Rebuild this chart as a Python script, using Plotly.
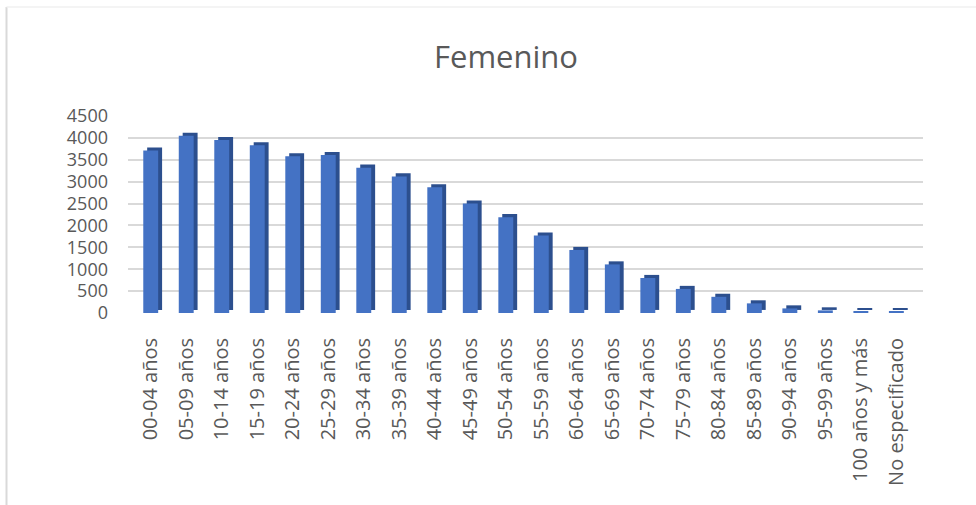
import plotly.graph_objects as go

categories = ["00-04 años", "05-09 años", "10-14 años", "15-19 años", "20-24 años",
              "25-29 años", "30-34 años", "35-39 años", "40-44 años", "45-49 años",
              "50-54 años", "55-59 años", "60-64 años", "65-69 años", "70-74 años",
              "75-79 años", "80-84 años", "85-89 años", "90-94 años", "95-99 años",
              "100 años y más", "No especificado"]
femenino = [3710, 4050, 3950, 3830, 3580, 3610, 3320, 3120, 2870, 2500,
            2190, 1770, 1440, 1110, 800, 550, 370, 220, 105, 60, 25, 25]
y_ticks = [0, 500, 1000, 1500, 2000, 2500, 3000, 3500, 4000, 4500]

FRONT = "#4472C4"
SIDE = "#2C4F8E"
TXT = "#595959"
FONT = "Open Sans"

# plot area geometry (pixels)
L, R, T, B = 128, 923, 116, 313
W, H = 976, 505

def px_x(p):
    return (p - L) / (R - L)

def px_y(p):
    return (B - p) / (B - T)

fig = go.Figure()
# dark "depth" face, drawn behind and shifted up/right
fig.add_trace(go.Bar(x=categories, y=femenino, base=70, width=0.42, offset=-0.10,
                     marker=dict(color=SIDE, line=dict(width=0)),
                     hoverinfo="skip", showlegend=False))
# front face
fig.add_trace(go.Bar(x=categories, y=femenino, width=0.42, offset=-0.21,
                     marker=dict(color=FRONT, line=dict(width=0)),
                     name="Femenino", showlegend=False))

fig.update_layout(
    width=W, height=H,
    margin=dict(l=L, r=W - R, t=T, b=H - B, autoexpand=False),
    paper_bgcolor="white", plot_bgcolor="white",
    barmode="overlay",
    font=dict(family=FONT, color=TXT, size=18),
    title=dict(text="Femenino", x=506 / W, xanchor="center",
               y=(H - 57) / H, yanchor="middle", yref="container",
               font=dict(family=FONT, size=31, color=TXT)),
    xaxis=dict(range=[-0.64, 21.75], tickangle=-90, showgrid=False,
               showline=False, ticks="", ticklabelstandoff=20, automargin=False,
               tickfont=dict(family=FONT, size=20, color=TXT)),
    yaxis=dict(range=[0, 4500], tickvals=y_ticks, showgrid=True,
               gridcolor="#D9D9D9", gridwidth=1.6, zeroline=False,
               showline=False, ticks="", ticklabelstandoff=19, automargin=False,
               tickfont=dict(family=FONT, size=18, color=TXT)),
    shapes=[
        dict(type="line", xref="paper", yref="paper",
             x0=px_x(6.5), x1=px_x(6.5), y0=px_y(7), y1=px_y(H),
             line=dict(color="#D9D9D9", width=2)),
        dict(type="line", xref="paper", yref="paper",
             x0=px_x(6.5), x1=px_x(W), y0=px_y(7), y1=px_y(7),
             line=dict(color="#F0F0F0", width=1.5)),
    ],
)

fig.write_html("out.html", config={"displayModeBar": False},
               post_script="document.body.style.margin='0';document.body.style.overflow='hidden';")
